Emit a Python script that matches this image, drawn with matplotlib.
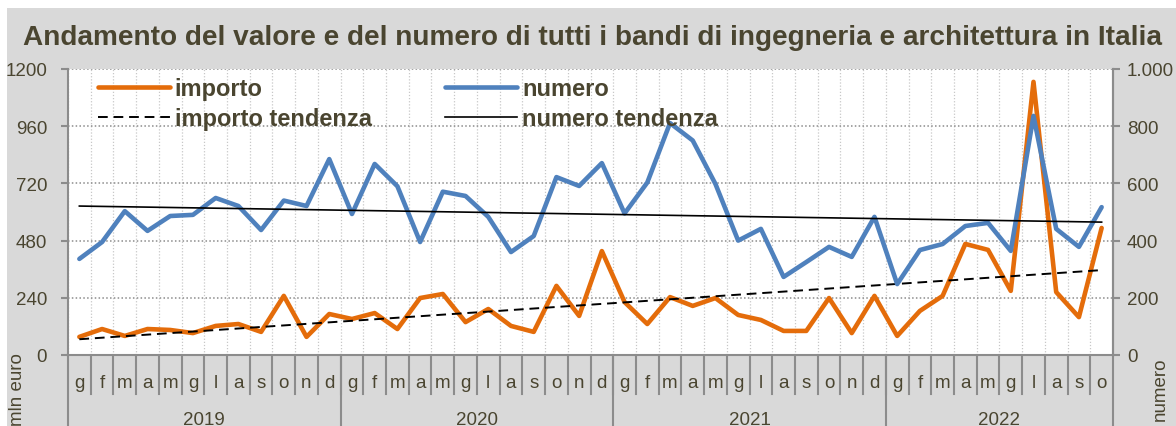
import numpy as np
import matplotlib
matplotlib.use('Agg')
import matplotlib.pyplot as plt
from matplotlib.patches import Rectangle

# monthly data, gen 2019 - ott 2022
importo = [76, 109, 80, 109, 105, 92, 122, 130, 97, 248, 76, 172,
           151, 176, 109, 239, 256, 138, 193, 122, 97, 290, 164, 436,
           222, 130, 243, 206, 239, 168, 147, 101, 101, 239, 92, 248,
           80, 185, 248, 466, 441, 269, 1146, 264, 159, 533]
numero = [336, 395, 503, 434, 486, 490, 549, 521, 437, 540, 521, 685,
          493, 668, 590, 395, 571, 556, 483, 360, 416, 622, 591, 671,
          495, 603, 811, 750, 598, 400, 441, 273, 325, 378, 343, 483,
          248, 367, 388, 451, 462, 364, 836, 441, 378, 517]
mesi = ['g', 'f', 'm', 'a', 'm', 'g', 'l', 'a', 's', 'o', 'n', 'd']
anni = ['2019', '2020', '2021', '2022']
mesi_per_anno = [12, 12, 12, 10]

left_ticks = [0, 240, 480, 720, 960, 1200]
right_ticks = [0, 200, 400, 600, 800, 1000]
right_labels = ['0', '200', '400', '600', '800', '1.000']

txt = '#4a4530'
orange = '#E46C0A'
blue = '#4F81BD'
sep = '#8c8c8c'

plt.rcParams['font.family'] = ['Liberation Sans', 'DejaVu Sans']

x = np.arange(len(importo))
labels = []
for n in mesi_per_anno:
    labels += mesi[:n]

# linear trends (as excel does)
ci = np.polyfit(x, importo, 1)
cn = np.polyfit(x, numero, 1)

fig = plt.figure(figsize=(11.76, 4.27), dpi=100)
fig.patches.append(Rectangle((7 / 1176, 0), 1, 418 / 427, transform=fig.transFigure,
                             facecolor='#d9d9d9', edgecolor='none', zorder=-10))

ax = fig.add_axes([68 / 1176, 71 / 427, 1045 / 1176, 286 / 427])
ax.set_facecolor('white')
ax2 = ax.twinx()

l1, = ax.plot(x, importo, color=orange, lw=3.3, solid_capstyle='round', zorder=3)
l2, = ax.plot(x, np.polyval(ci, x), color='black', lw=1.4, ls=(0, (5, 3)), zorder=4)
l3, = ax2.plot(x, numero, color=blue, lw=3.3, solid_capstyle='round', zorder=3)
l4, = ax2.plot(x, np.polyval(cn, x), color='black', lw=1.2, zorder=4)

ax.set_xlim(-0.5, len(x) - 0.5)
ax.set_ylim(0, 1200)
ax2.set_ylim(0, 1000)
ax.set_yticks(left_ticks)
ax2.set_yticks(right_ticks)
ax2.set_yticklabels(right_labels)

# grids
ax.set_xticks([])
ax.set_xticks(np.arange(len(x) + 1) - 0.5, minor=True)
ax.grid(True, axis='y', color='#8c8c8c', lw=1.1, ls=(0, (1, 1.5)))
ax.grid(True, axis='x', which='minor', color='#c8c8c8', lw=0.9, ls=(0, (1, 1.5)))
ax.tick_params(axis='x', which='minor', length=0)

for a in (ax, ax2):
    for s in a.spines.values():
        s.set_color(sep)
        s.set_linewidth(1.5)
    a.spines['top'].set_visible(False)
ax2.spines['left'].set_visible(False)
ax2.spines['bottom'].set_visible(False)
ax.tick_params(axis='y', colors=sep, labelcolor=txt, labelsize=13.5, length=5, width=1.5, pad=10)
ax2.tick_params(axis='y', colors=sep, labelcolor=txt, labelsize=13.5, length=5, width=1.5, pad=5)

# month / year band under the plot
tr = ax.get_xaxis_transform()
for k in range(1, len(x)):
    ax.plot([k - 0.5, k - 0.5], [0, -0.137], transform=tr, color=sep, lw=1.5, clip_on=False)
for i, m in enumerate(labels):
    ax.text(i, -0.095, m, transform=tr, ha='center', va='center', fontsize=13.5, color=txt)
start = 0
for anno, n in zip(anni, mesi_per_anno):
    ax.plot([start - 0.5, start - 0.5], [0, -0.3], transform=tr, color=sep, lw=1.5, clip_on=False)
    ax.text(start - 0.5 + n / 2, -0.225, anno, transform=tr, ha='center', va='center',
            fontsize=13.5, color=txt)
    start += n
ax.plot([start - 0.5, start - 0.5], [0, -0.3], transform=tr, color=sep, lw=1.5, clip_on=False)

leg = ax2.legend([l1, l2, l3, l4],
                 ['importo', 'importo tendenza', 'numero', 'numero tendenza'],
                 ncol=2, loc='upper left', bbox_to_anchor=(0.008, 1.045), frameon=False,
                 handlelength=3.05, handletextpad=0.22, columnspacing=3.1, labelspacing=0.3,
                 prop={'weight': 'bold', 'size': 17})
for t in leg.get_texts():
    t.set_color(txt)

fig.text(0.504, 0.911, 'Andamento del valore e del numero di tutti i bandi di ingegneria e architettura in Italia',
         ha='center', va='center', fontsize=20.2, fontweight='bold', color=txt)
fig.text(17 / 1176, (427 - 353) / 427, 'mln euro', rotation=90, ha='center', va='top',
         fontsize=13.5, color=txt)
fig.text(1160 / 1176, (427 - 358) / 427, 'numero', rotation=90, ha='center', va='top',
         fontsize=13.5, color=txt)

fig.savefig('out.png', dpi=100, facecolor='white')
